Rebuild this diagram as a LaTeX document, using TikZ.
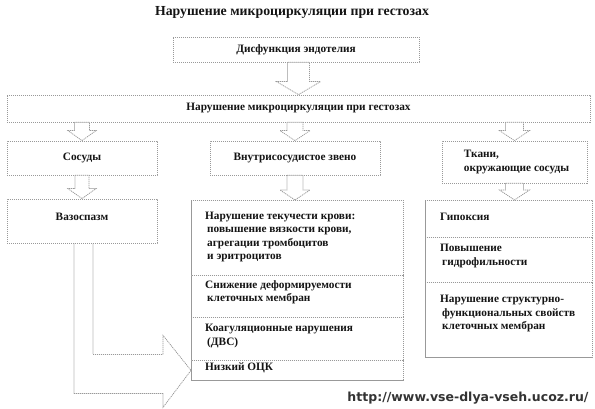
\documentclass[tikz,border=0pt]{standalone}
\usepackage{fontspec}
\setmainfont{Liberation Serif}
\newfontfamily\wmfont{DejaVu Sans}
\usetikzlibrary{calc}
\tikzset{
  box/.style={draw=gray!80, dash pattern=on 1.2pt off 0.8pt, line width=0.75pt, fill=white, inner sep=0pt},
  arr/.style={draw=gray!80, dash pattern=on 1.2pt off 0.8pt, line width=0.75pt, fill=white},
  txt/.style={font=\bfseries\fontsize{11.3}{13.5}\selectfont, text=black!92, inner sep=0pt},
  ttlstyle/.style={font=\bfseries\fontsize{13.8}{15}\selectfont, text=black!92},
  wm/.style={font=\wmfont\bfseries\fontsize{12.5}{14}\selectfont, text=black!80},
}
\newcommand\blockarr[5]{%
  \path let \p1=(#1), \p2=(#2) in [arr] (\x2-#3,\y1) -- (\x2-#3,\y2+#5) -- (\x2-#4,\y2+#5) -- (\x2,\y2) -- (\x2+#4,\y2+#5) -- (\x2+#3,\y2+#5) -- (\x2+#3,\y1) -- cycle;}
\begin{document}
\begin{tikzpicture}[x=1pt,y=-1pt]
\useasboundingbox (0,0) rectangle (595,409);
\node[ttlstyle] (ttl) at (292,12) {Нарушение микроциркуляции при гестозах};

\node[box, minimum width=246pt, minimum height=25pt] (dys) at (296,49.5) {};
\node[txt] (dyst) at (dys.center) {Дисфункция эндотелия};

\node[box, minimum width=583pt, minimum height=27pt] (wide) at (298.5,108.5) {};
\node[txt] (widet) at (wide.center) {Нарушение микроциркуляции при гестозах};

\node[box, minimum width=150pt, minimum height=34pt] (sos) at (82,158) {};
\node[txt] (sost) at (sos.center) {Сосуды};
\node[box, minimum width=170pt, minimum height=34pt] (vn) at (295,158) {};
\node[txt] (vnt) at (vn.center) {Внутрисосудистое звено};
\node[box, minimum width=145pt, minimum height=42pt] (tk) at (514.5,162) {};
\node[txt, align=left] (tkt) at ($(tk.center)+(2,0)$) {Ткани,\\окружающие сосуды};

\node[box, minimum width=150pt, minimum height=44pt] (vaz) at (82,221) {};
\node[txt] (vazt) at ($(vaz.center)+(0,-4)$) {Вазоспазм};

% middle stack
\node[box, minimum width=212pt, minimum height=75pt, anchor=north west] (c1) at (191,200) {};
\node[box, minimum width=212pt, minimum height=42pt, anchor=north west] (c2) at (191,275) {};
\node[box, minimum width=212pt, minimum height=43pt, anchor=north west] (c3) at (191,317) {};
\node[box, minimum width=212pt, minimum height=20pt, anchor=north west] (c4) at (191,360) {};
\node[txt, align=left, anchor=west] (c1t) at ($(c1.west)+(14,-1)$) {Нарушение текучести крови:\\\hspace*{2pt}повышение вязкости крови,\\\hspace*{2pt}агрегации тромбоцитов\\\hspace*{2pt}и эритроцитов};
\node[txt, align=left, anchor=west] (c2t) at ($(c2.west)+(14,-4)$) {Снижение деформируемости\\\hspace*{2pt}клеточных мембран};
\node[txt, align=left, anchor=west] (c3t) at ($(c3.west)+(14,-3)$) {Коагуляционные нарушения\\\hspace*{2pt}(ДВС)};
\node[txt, align=left, anchor=west] (c4t) at ($(c4.west)+(14,-3)$) {Низкий ОЦК};

% right stack
\node[box, minimum width=167pt, minimum height=37pt, anchor=north west] (r1) at (425,200) {};
\node[box, minimum width=167pt, minimum height=45pt, anchor=north west] (r2) at (425,237) {};
\node[box, minimum width=167pt, minimum height=75pt, anchor=north west] (r3) at (425,282) {};
\node[txt, align=left, anchor=west] (r1t) at ($(r1.west)+(15,-2)$) {Гипоксия};
\node[txt, align=left, anchor=west] (r2t) at ($(r2.west)+(15,-4)$) {Повышение\\\hspace*{2pt}гидрофильности};
\node[txt, align=left, anchor=west] (r3t) at ($(r3.west)+(15,-6)$) {Нарушение структурно-\\\hspace*{2pt}функциональных свойств\\\hspace*{2pt}клеточных мембран};

% block arrows
\blockarr{dys.south}{wide.north}{11pt}{22pt}{13pt}
\blockarr{wide.south -| sos.north}{sos.north}{7.5pt}{14pt}{10pt}
\blockarr{wide.south -| vn.north}{vn.north}{8pt}{15pt}{10pt}
\blockarr{wide.south -| tk.north}{tk.north}{9pt}{15pt}{10pt}
\blockarr{sos.south}{vaz.north}{7pt}{14pt}{10pt}
\blockarr{vn.south}{c1.north -| vn.south}{8pt}{15pt}{10pt}
\blockarr{tk.south}{r1.north -| tk.south}{9pt}{15pt}{10pt}

% bent arrow
\draw[arr, fill=none] ($(vaz.south)+(-8,0)$) |- ($(c4.west)+(-28,23)$) -- ($(c4.west)+(-28,37)$) -- (c4.west) -- ($(c4.west)+(-28,-35)$) -- ($(c4.west)+(-28,-16)$) -| ($(vaz.south)+(11,0)$);

\node[wm] (wmk) at (468,398) {http://www.vse-dlya-vseh.ucoz.ru/};
\end{tikzpicture}
\end{document}
